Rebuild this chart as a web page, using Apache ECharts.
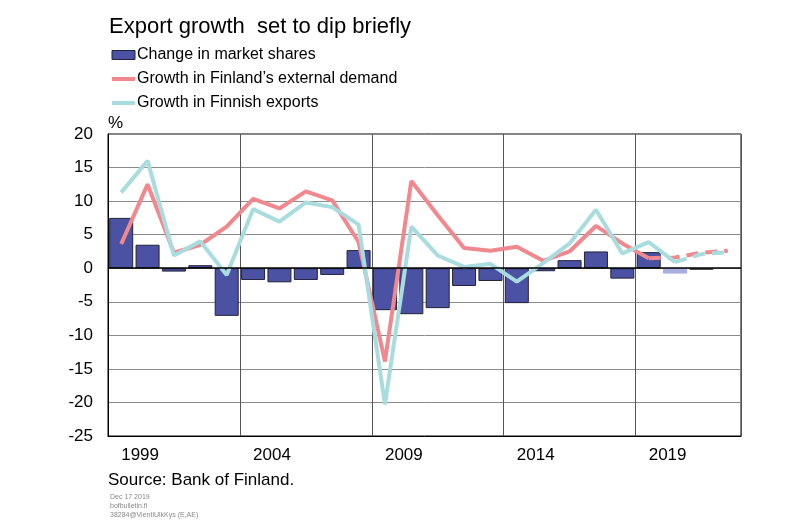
<!DOCTYPE html>
<html>
<head>
<meta charset="utf-8">
<script src="https://cdn.jsdelivr.net/npm/echarts@6/dist/echarts.min.js"></script>
<style>
html,body{margin:0;padding:0;background:#fff;}
#chart{width:800px;height:523px;}
</style>
</head>
<body>
<div id="chart"></div>
<script>
// ---- Data ----
var years = ['1999','2000','2001','2002','2003','2004','2005','2006','2007','2008','2009','2010',
             '2011','2012','2013','2014','2015','2016','2017','2018','2019','2020','2021','2022'];
var marketShares = [7.5, 3.5, -0.5, 0.45, -7.1, -1.75, -2.1, -1.75, -1.0, 2.7, -6.25, -6.85,
                    -5.95, -2.65, -1.9, -5.2, -0.45, 1.2, 2.5, -1.55, 2.4, -0.8, -0.25, null];
var externalDemand = [3.6, 12.5, 2.3, 3.5, 6.2, 10.35, 8.9, 11.45, 10.1, 3.9, -13.9, 13.0,
                      7.9, 3.0, 2.6, 3.2, 1.1, 2.5, 6.3, 3.7, 1.5, 1.6, 2.3, 2.6];
var finnishExports = [11.3, 16.0, 1.9, 4.0, -1.0, 8.8, 6.95, 9.8, 9.1, 6.5, -20.3, 6.2,
                      1.9, 0.2, 0.65, -2.0, 0.75, 3.7, 8.7, 2.2, 3.9, 0.9, 2.1, 2.4];
var demandForecastFrom = 20;   // index where dashed (forecast) part starts
var exportsForecastFrom = 21;
var barForecastFrom = 21;
var yTicks = {min: -25, max: 20, interval: 5};

// ---- Build ----
function solidPart(arr, k){ return arr.map(function(v,i){ return i<=k ? v : null; }); }
function dashedPart(arr, k){ return arr.map(function(v,i){ return i>=k ? v : null; }); }

var barColor = '#4b52a3';
var barData = marketShares.map(function(v,i){
  if (i === barForecastFrom) return {value: v, itemStyle: {color: '#aaaddf', borderWidth: 0}};
  if (i > barForecastFrom) return {value: v, itemStyle: {color: '#7f7f99', borderColor: '#444', borderWidth: 1}};
  return v;
});

var FONT = 'Liberation Sans, Arial, sans-serif';
var red = '#f0888e', cyan = '#a9dcdf';

var chart = echarts.init(document.getElementById('chart'), null, {renderer: 'canvas'});
chart.setOption({
  animation: false,
  backgroundColor: '#fff',
  textStyle: {fontFamily: FONT},
  title: [
    {text: 'Export growth  set to dip briefly', left: 109, top: 16, padding: 0,
     textStyle: {fontSize: 22, fontWeight: 'normal', color: '#000', fontFamily: FONT}},
    {text: 'Source: Bank of Finland.', left: 108, top: 472, padding: 0,
     textStyle: {fontSize: 17, fontWeight: 'normal', color: '#000', fontFamily: FONT}},
    {text: 'Dec 17 2019\nbofbulletin.fi\n38284@VientiUlkKys (E,AE)', left: 110, top: 493, padding: 0,
     textStyle: {fontSize: 7, lineHeight: 9, fontWeight: 'normal', color: '#888', fontFamily: FONT}}
  ],
  legend: {
    orient: 'vertical', left: 110, top: 43, padding: 0, itemGap: 0,
    itemWidth: 23, itemHeight: 9,
    textStyle: {fontSize: 16, lineHeight: 24, color: '#000', fontFamily: FONT, padding: [0,0,0,-3]},
    data: [
      {name: 'Change in market shares', icon: 'rect', itemStyle: {borderWidth: 1}},
      {name: 'Growth in Finland\u2019s external demand', itemStyle: {opacity: 0}, lineStyle: {width: 4}},
      {name: 'Growth in Finnish exports', itemStyle: {opacity: 0}, lineStyle: {width: 4}}
    ]
  },
  grid: {left: 108, top: 134, width: 633, height: 302, show: true, borderColor: '#000', borderWidth: 1, containLabel: false},
  xAxis: {
    type: 'category', data: years, boundaryGap: true,
    axisLine: {show: true, onZero: false, lineStyle: {color: '#000', width: 1}},
    axisTick: {show: false},
    axisLabel: {interval: 4, align: 'left', fontSize: 17, color: '#000', margin: 11, fontFamily: FONT},
    splitLine: {show: true, interval: 4, lineStyle: {color: '#555', width: 1}}
  },
  yAxis: {
    type: 'value', min: yTicks.min, max: yTicks.max, interval: yTicks.interval,
    name: '%', nameLocation: 'end', nameGap: 2,
    nameTextStyle: {align: 'left', fontSize: 17, color: '#000', fontFamily: FONT, padding: [0,0,0,0]},
    axisLine: {show: true, lineStyle: {color: '#000', width: 1}},
    axisTick: {show: false},
    axisLabel: {fontSize: 17, color: '#000', margin: 15, fontFamily: FONT},
    splitLine: {show: true, lineStyle: {color: '#8a8a8a', width: 1}}
  },
  series: [
    {name: 'Change in market shares', type: 'bar', data: barData, barWidth: 24,
     itemStyle: {color: barColor, borderColor: '#22223a', borderWidth: 1},
     markLine: {silent: true, symbol: 'none', label: {show: false},
                lineStyle: {color: '#000', width: 1.5, type: 'solid'}, data: [{yAxis: 0}]},
     z: 2},
    {name: 'Growth in Finland\u2019s external demand', type: 'line', data: solidPart(externalDemand, demandForecastFrom),
     symbol: 'none', lineStyle: {color: red, width: 4}, itemStyle: {color: red}, z: 3},
    {type: 'line', data: dashedPart(externalDemand, demandForecastFrom),
     symbol: 'none', lineStyle: {color: red, width: 4, type: [12, 7]}, z: 3},
    {name: 'Growth in Finnish exports', type: 'line', data: solidPart(finnishExports, exportsForecastFrom),
     symbol: 'none', lineStyle: {color: cyan, width: 4}, itemStyle: {color: cyan}, z: 4},
    {type: 'line', data: dashedPart(finnishExports, exportsForecastFrom),
     symbol: 'none', lineStyle: {color: cyan, width: 4, type: [12, 7]}, z: 4}
  ]
});
</script>
</body>
</html>
